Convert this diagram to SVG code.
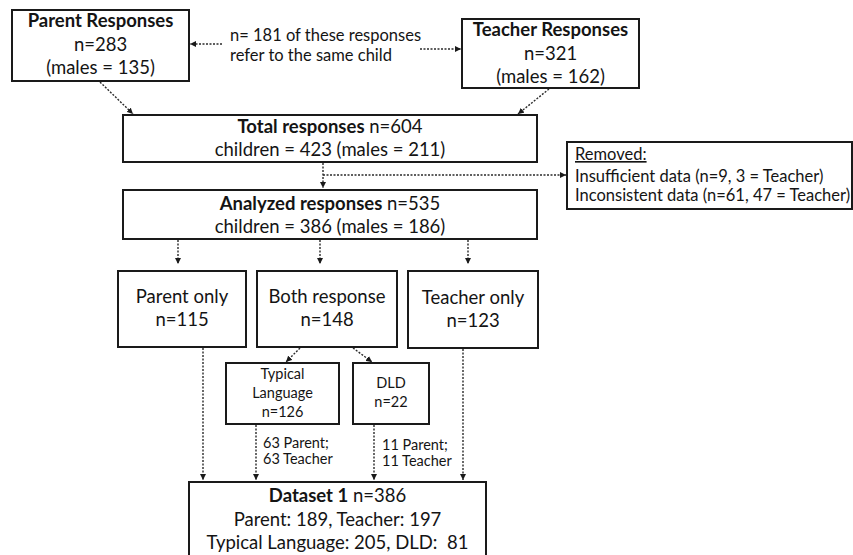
<svg xmlns="http://www.w3.org/2000/svg" width="853" height="555" viewBox="0 0 853 555">
<style>
text{font-family:Lato,"Liberation Sans",sans-serif;fill:#141414;}
.m{font-size:18.5px;text-anchor:middle;}
.b{font-weight:bold;}
.n{font-size:16.5px;}
.s{font-size:14.5px;}
.c{text-anchor:middle;}
rect{fill:#fff;stroke:#1a1a1a;stroke-width:2;}
.e line{stroke:#2a2a2a;stroke-width:1.4;stroke-dasharray:2 1.5;marker-end:url(#ah);}
</style>
<defs>
<marker id="ah" viewBox="0 0 10 10" refX="10" refY="5" markerWidth="6" markerHeight="6" markerUnits="userSpaceOnUse" orient="auto">
<path d="M0,0 L10,5 L0,10 z" fill="#1a1a1a"/>
</marker>
</defs>
<g class="e" id="connectors">
<line x1="222" y1="44" x2="190" y2="44"/>
<line x1="420" y1="49" x2="461" y2="49"/>
<line x1="100" y1="82" x2="133" y2="114"/>
<line x1="549" y1="89" x2="518" y2="114"/>
<line x1="323" y1="163" x2="323" y2="188"/>
<line x1="323" y1="175" x2="566" y2="175"/>
<line x1="178" y1="240" x2="178" y2="264"/>
<line x1="320" y1="240" x2="320" y2="264"/>
<line x1="468" y1="240" x2="468" y2="264"/>
<line x1="300" y1="348" x2="286" y2="362"/>
<line x1="353" y1="348" x2="372" y2="362"/>
<line x1="203" y1="348" x2="203" y2="480"/>
<line x1="256" y1="425" x2="256" y2="480"/>
<line x1="374" y1="425" x2="374" y2="480"/>
<line x1="463" y1="349" x2="463" y2="480"/>
</g>
<g id="parent">
<rect x="12" y="10" width="177" height="71"/>
<text class="m b" x="100.5" y="27">Parent Responses</text>
<text class="m" x="100.5" y="51">n=283</text>
<text class="m" x="100.5" y="74">(males = 135)</text>
</g>
<g id="note">
<text class="n" x="230" y="41">n= 181 of these responses</text>
<text class="n" x="230" y="61">refer to the same child</text>
</g>
<g id="teacher">
<rect x="462" y="19" width="177" height="69"/>
<text class="m b" x="550.5" y="36">Teacher Responses</text>
<text class="m" x="550.5" y="60">n=321</text>
<text class="m" x="550.5" y="83">(males = 162)</text>
</g>
<g id="total">
<rect x="123" y="115" width="414" height="47"/>
<text class="m" x="330" y="133"><tspan class="b">Total responses</tspan> n=604</text>
<text class="m" x="330" y="156">children = 423 (males = 211)</text>
</g>
<g id="removed">
<rect x="567" y="142" width="285" height="67"/>
<text class="n" x="575" y="160" text-decoration="underline">Removed:</text>
<text class="n" x="575" y="182">Insufficient data (n=9, 3 = Teacher)</text>
<text class="n" x="575" y="201">Inconsistent data (n=61, 47 = Teacher)</text>
</g>
<g id="analyzed">
<rect x="123" y="190" width="414" height="49"/>
<text class="m" x="330" y="210"><tspan class="b">Analyzed responses</tspan> n=535</text>
<text class="m" x="330" y="233">children = 386 (males = 186)</text>
</g>
<g id="parentonly">
<rect x="118" y="271" width="128" height="76"/>
<text class="m" x="182" y="303">Parent only</text>
<text class="m" x="182" y="326">n=115</text>
</g>
<g id="both">
<rect x="257" y="271" width="140" height="76"/>
<text class="m" x="327" y="303">Both response</text>
<text class="m" x="327" y="326">n=148</text>
</g>
<g id="teacheronly">
<rect x="408" y="271" width="130" height="77"/>
<text class="m" x="473" y="304">Teacher only</text>
<text class="m" x="473" y="327">n=123</text>
</g>
<g id="typical">
<rect x="226" y="363" width="113" height="61"/>
<text class="s c" x="282.5" y="379">Typical</text>
<text class="s c" x="282.5" y="398">Language</text>
<text class="s c" x="282.5" y="417">n=126</text>
</g>
<g id="dld">
<rect x="353" y="363" width="76" height="61"/>
<text class="s c" x="391" y="388">DLD</text>
<text class="s c" x="391" y="407">n=22</text>
</g>
<g id="labels">
<text class="s" x="263" y="448">63 Parent;</text>
<text class="s" x="263" y="464">63 Teacher</text>
<text class="s" x="382" y="450">11 Parent;</text>
<text class="s" x="382" y="466">11 Teacher</text>
</g>
<g id="dataset">
<rect x="189" y="482" width="297" height="80"/>
<text class="m" x="337.5" y="502"><tspan class="b">Dataset 1</tspan> n=386</text>
<text class="m" x="337.5" y="526">Parent: 189, Teacher: 197</text>
<text class="m" x="337.5" y="549">Typical Language: 205, DLD:&#160; 81</text>
</g>
</svg>
